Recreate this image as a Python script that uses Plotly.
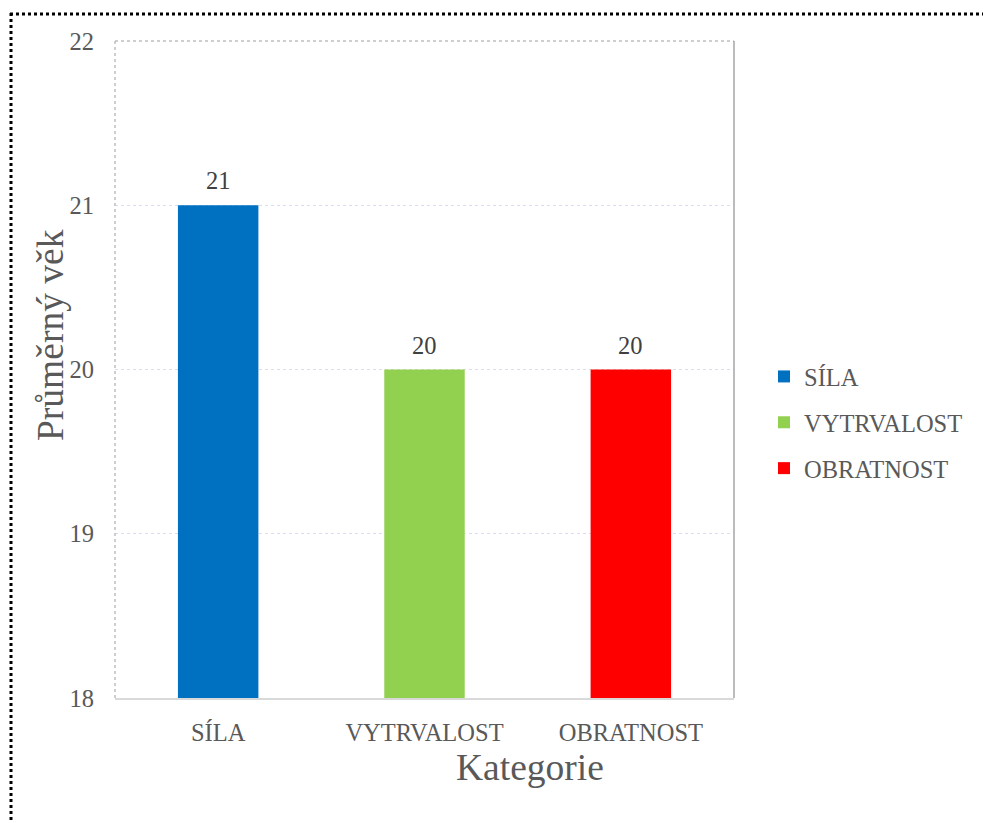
import plotly.graph_objects as go

categories = ["SÍLA", "VYTRVALOST", "OBRATNOST"]
values = [21, 20, 20]
colors = ["#0070C0", "#92D050", "#FF0000"]
y_ticks = [18, 19, 20, 21, 22]

FONT = "Liberation Serif, Times New Roman, serif"
FS = 24.5
W, H = 983, 823
L, R, T, B = 115, 249, 41, 125
pw, ph = W - L - R, H - T - B

def px(x):
    return (x - L) / pw

def py(y):
    return (H - B - y) / ph

fig = go.Figure()
for i, (c, v, col) in enumerate(zip(categories, values, colors)):
    fig.add_trace(go.Bar(
        x=[c], y=[v], name=c, legendgroup=f"g{i}",
        marker=dict(color=col, line=dict(width=0)),
        base=0,
    ))
    fig.add_annotation(x=c, y=v, xref="x", yref="y", text=str(v), showarrow=False,
                       yanchor="bottom", yshift=9,
                       font=dict(family=FONT, size=FS, color="#404040"))

fig.update_layout(
    width=W, height=H,
    margin=dict(l=L, r=R, t=T, b=B),
    paper_bgcolor="white", plot_bgcolor="white",
    barmode="overlay", bargap=0.61,
    font=dict(family=FONT, color="#595959"),
    showlegend=True,
    legend=dict(x=px(764), y=py(354), xanchor="left", yanchor="top",
                font=dict(family=FONT, size=FS, color="#595959"),
                traceorder="grouped", tracegroupgap=11,
                itemsizing="constant", bgcolor="rgba(0,0,0,0)"),
    xaxis=dict(categoryorder="array", categoryarray=categories,
               tickfont=dict(family=FONT, size=FS, color="#595959"),
               showline=True, linecolor="#d9d9d9", linewidth=2,
               ticks="", showgrid=False, ticklabelstandoff=12),
    yaxis=dict(range=[18, 22], tickvals=y_ticks, ticktext=[str(t) for t in y_ticks],
               tickfont=dict(family=FONT, size=FS, color="#595959"),
               showgrid=True, gridcolor="#dcdcf0", griddash="dot", gridwidth=1,
               zeroline=False, showline=False, ticks="", ticklabelstandoff=20),
    shapes=[
        dict(type="line", xref="paper", yref="paper", x0=px(10), x1=px(1000), y0=py(14), y1=py(14),
             line=dict(color="black", width=3, dash="dot")),
        dict(type="line", xref="paper", yref="paper", x0=px(11), x1=px(11), y0=py(13), y1=py(840),
             line=dict(color="black", width=3, dash="dot")),
        dict(type="line", xref="paper", yref="paper", x0=0, x1=1, y0=1, y1=1,
             line=dict(color="#bfbfbf", width=1.5, dash="dot")),
        dict(type="line", xref="paper", yref="paper", x0=0, x1=0, y0=0, y1=1,
             line=dict(color="#bfbfbf", width=1.5, dash="dot")),
        dict(type="line", xref="paper", yref="paper", x0=1, x1=1, y0=0, y1=1,
             line=dict(color="#a6a6a6", width=1.5)),
    ],
)
fig.add_annotation(text="Průměrný věk", x=px(50), y=py(335), xref="paper", yref="paper",
                   textangle=-90, showarrow=False, font=dict(family=FONT, size=37.5, color="#595959"),
                   xanchor="center", yanchor="middle")
fig.add_annotation(text="Kategorie", x=px(530), y=py(767), xref="paper", yref="paper",
                   showarrow=False, font=dict(family=FONT, size=37.5, color="#595959"),
                   xanchor="center", yanchor="middle")

fig.write_html("out.html")
